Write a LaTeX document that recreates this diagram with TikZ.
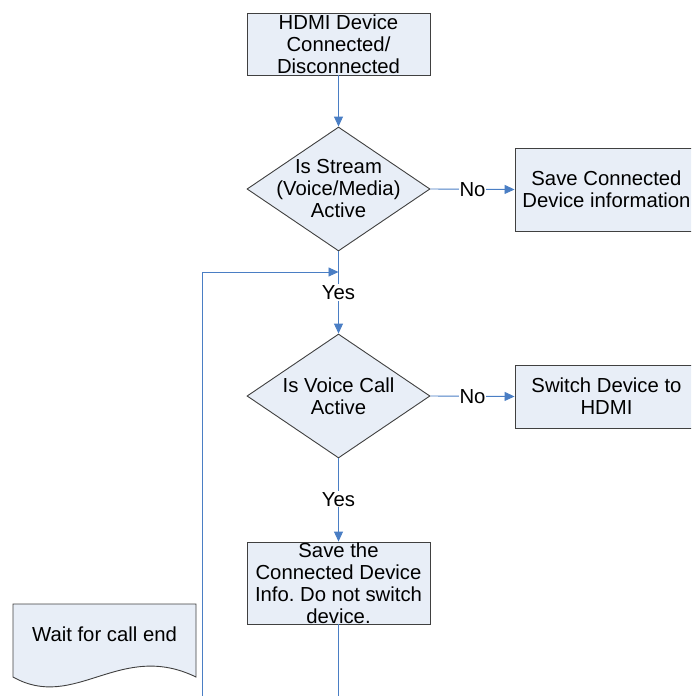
\documentclass[tikz,border=0pt]{standalone}
\usepackage{fontspec}
\setmainfont{Liberation Sans}
\usetikzlibrary{shapes.geometric,arrows.meta}
\definecolor{boxfill}{HTML}{E8EEF7}
\definecolor{boxline}{HTML}{404040}
\definecolor{flow}{HTML}{4A7EC4}
\frenchspacing
\begin{document}
\begin{tikzpicture}[x=1pt,y=-1pt,
  txt/.style={font=\fontsize{20.3}{22}\selectfont,align=center,inner sep=0pt,text=black},
  procbox/.style={draw=boxline,fill=boxfill,line width=0.9pt,minimum width=183pt,inner sep=0pt,txt},
  decision/.style={diamond,draw=boxline,fill=boxfill,line width=0.9pt,minimum width=183pt,minimum height=124pt,inner sep=0pt},
  flowline/.style={draw=flow,line width=0.9pt},
  flowarrow/.style={flowline,-{Triangle[length=10pt,width=9pt]}},
  branch/.style={txt,fill=white,inner sep=1pt}]
\useasboundingbox (0,0) rectangle (691,696);
\clip (0,0) rectangle (691,696);

% process boxes
\node[procbox,minimum height=62pt] (start) at (338.5,44) {HDMI Device\\Connected/\\Disconnected};
\node[decision] (stream) at (338.5,189) {};
\node[txt] at (stream.center) {Is Stream\\(Voice/Media)\\Active};
\node[procbox,minimum height=83pt] (saveinfo) at (606.5,189.5) {Save Connected\\Device information};

\node[decision] (voice) at (338.5,396) {};
\node[txt] at (voice.center) {Is Voice Call\\Active};
\node[procbox,minimum height=63pt] (switch) at (606.5,396.5) {Switch Device to\\HDMI};

\node[procbox,minimum height=82pt] (keep) at (338.5,583) {Save the\\Connected Device\\Info. Do not switch\\device.};

% document shape
\path[draw=boxline,fill=boxfill,line width=0.9pt]
  (13,604) -- (196,604) -- (196,677)
  .. controls (120,640) and (75,712) .. (13,677) -- cycle;
\node[txt] (wait) at (104.5,634) {Wait for call end};

% loose ends of the flow
\coordinate (loopfoot) at (202,696);
\coordinate (loopcorner) at (202,272);
\coordinate (join) at (338.5,272);
\coordinate (downout) at (338.5,696);

% connectors
\draw[flowarrow] (start.south) -- (stream.north);
\draw[flowarrow] (stream.east) -- node[branch] {No} (saveinfo.west);
\draw[flowarrow] (stream.south) -- node[branch,pos=0.5] {Yes} (voice.north);
\draw[flowarrow] (loopfoot) -- (loopcorner) -- (join);
\draw[flowarrow] (voice.east) -- node[branch] {No} (switch.west);
\draw[flowarrow] (voice.south) -- node[branch,pos=0.49] {Yes} (keep.north);
\draw[flowline] (keep.south) -- (downout);
\end{tikzpicture}
\end{document}
